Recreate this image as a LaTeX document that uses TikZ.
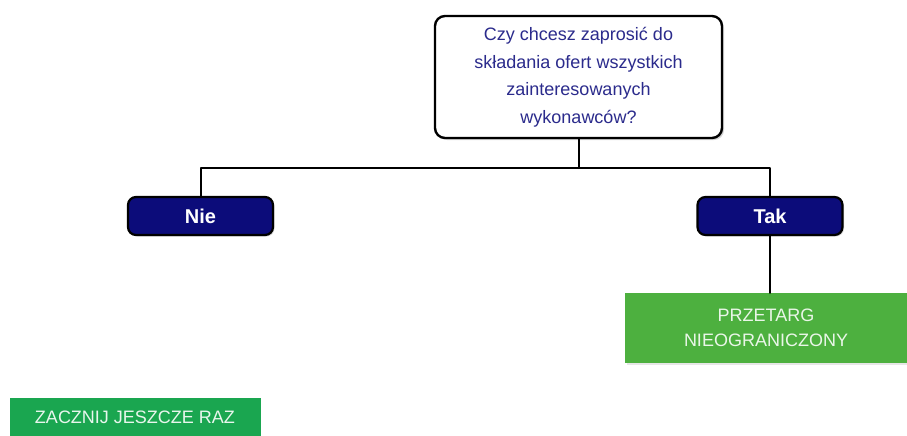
\documentclass[tikz,border=0pt]{standalone}
\usepackage{fontspec}
\setmainfont{Liberation Sans}
\usetikzlibrary{shadows}
\definecolor{pytanie}{RGB}{43,43,140}
\definecolor{granat}{RGB}{12,12,122}
\definecolor{zielony}{RGB}{77,176,63}
\definecolor{zielonyb}{RGB}{26,166,80}
\begin{document}
\begin{tikzpicture}[x=1pt,y=-1pt,line join=round,line cap=round,
  pytbox/.style={draw=black,line width=2.4pt,fill=white,rounded corners=10pt,
    minimum width=287pt,minimum height=122pt,align=center,
    text=pytanie,font=\fontsize{18}{27.5}\selectfont,
    drop shadow={opacity=0.35,shadow xshift=2pt,shadow yshift=-2pt}},
  odpbox/.style={draw=black,line width=2.2pt,fill=granat,rounded corners=8pt,
    minimum width=145pt,minimum height=38pt,text=white,
    font=\fontsize{20}{20}\selectfont\bfseries,
    drop shadow={opacity=0.3,shadow xshift=1.5pt,shadow yshift=-1.5pt}},
  wynbox/.style={fill=zielony,minimum width=282pt,minimum height=70pt,
    align=center,text=white!88!zielony,font=\fontsize{18}{25}\selectfont,
    drop shadow={opacity=0.2,shadow xshift=1.5pt,shadow yshift=-1.5pt}},
  link/.style={draw=black,line width=2pt}]
\def \xmax{907};
\def \ymax{436};
\useasboundingbox (0,0) rectangle (\xmax,\ymax);
\node[pytbox] (pyt) at (578.5,77) {Czy chcesz zaprosić do\\składania ofert wszystkich\\zainteresowanych\\wykonawców?};
\node[odpbox] (nie) at (200.5,216) {Nie};
\node[odpbox] (tak) at (770,216) {Tak};
\node[wynbox] (przetarg) at (766,328) {PRZETARG\\NIEOGRANICZONY};
\node[fill=zielonyb,minimum width=251pt,minimum height=38pt,text=white!90!zielonyb,
  font=\fontsize{18}{20}\selectfont] (reset) at (135,417) {ZACZNIJ JESZCZE RAZ};
\coordinate (rozg) at (578.5,168);
\draw[link] (pyt.south) -- (rozg);
\draw[link] (nie.north) |- (rozg) -| (tak.north);
\draw[link] (tak.south) -- (przetarg.north -| tak.south);
\end{tikzpicture}
\end{document}
